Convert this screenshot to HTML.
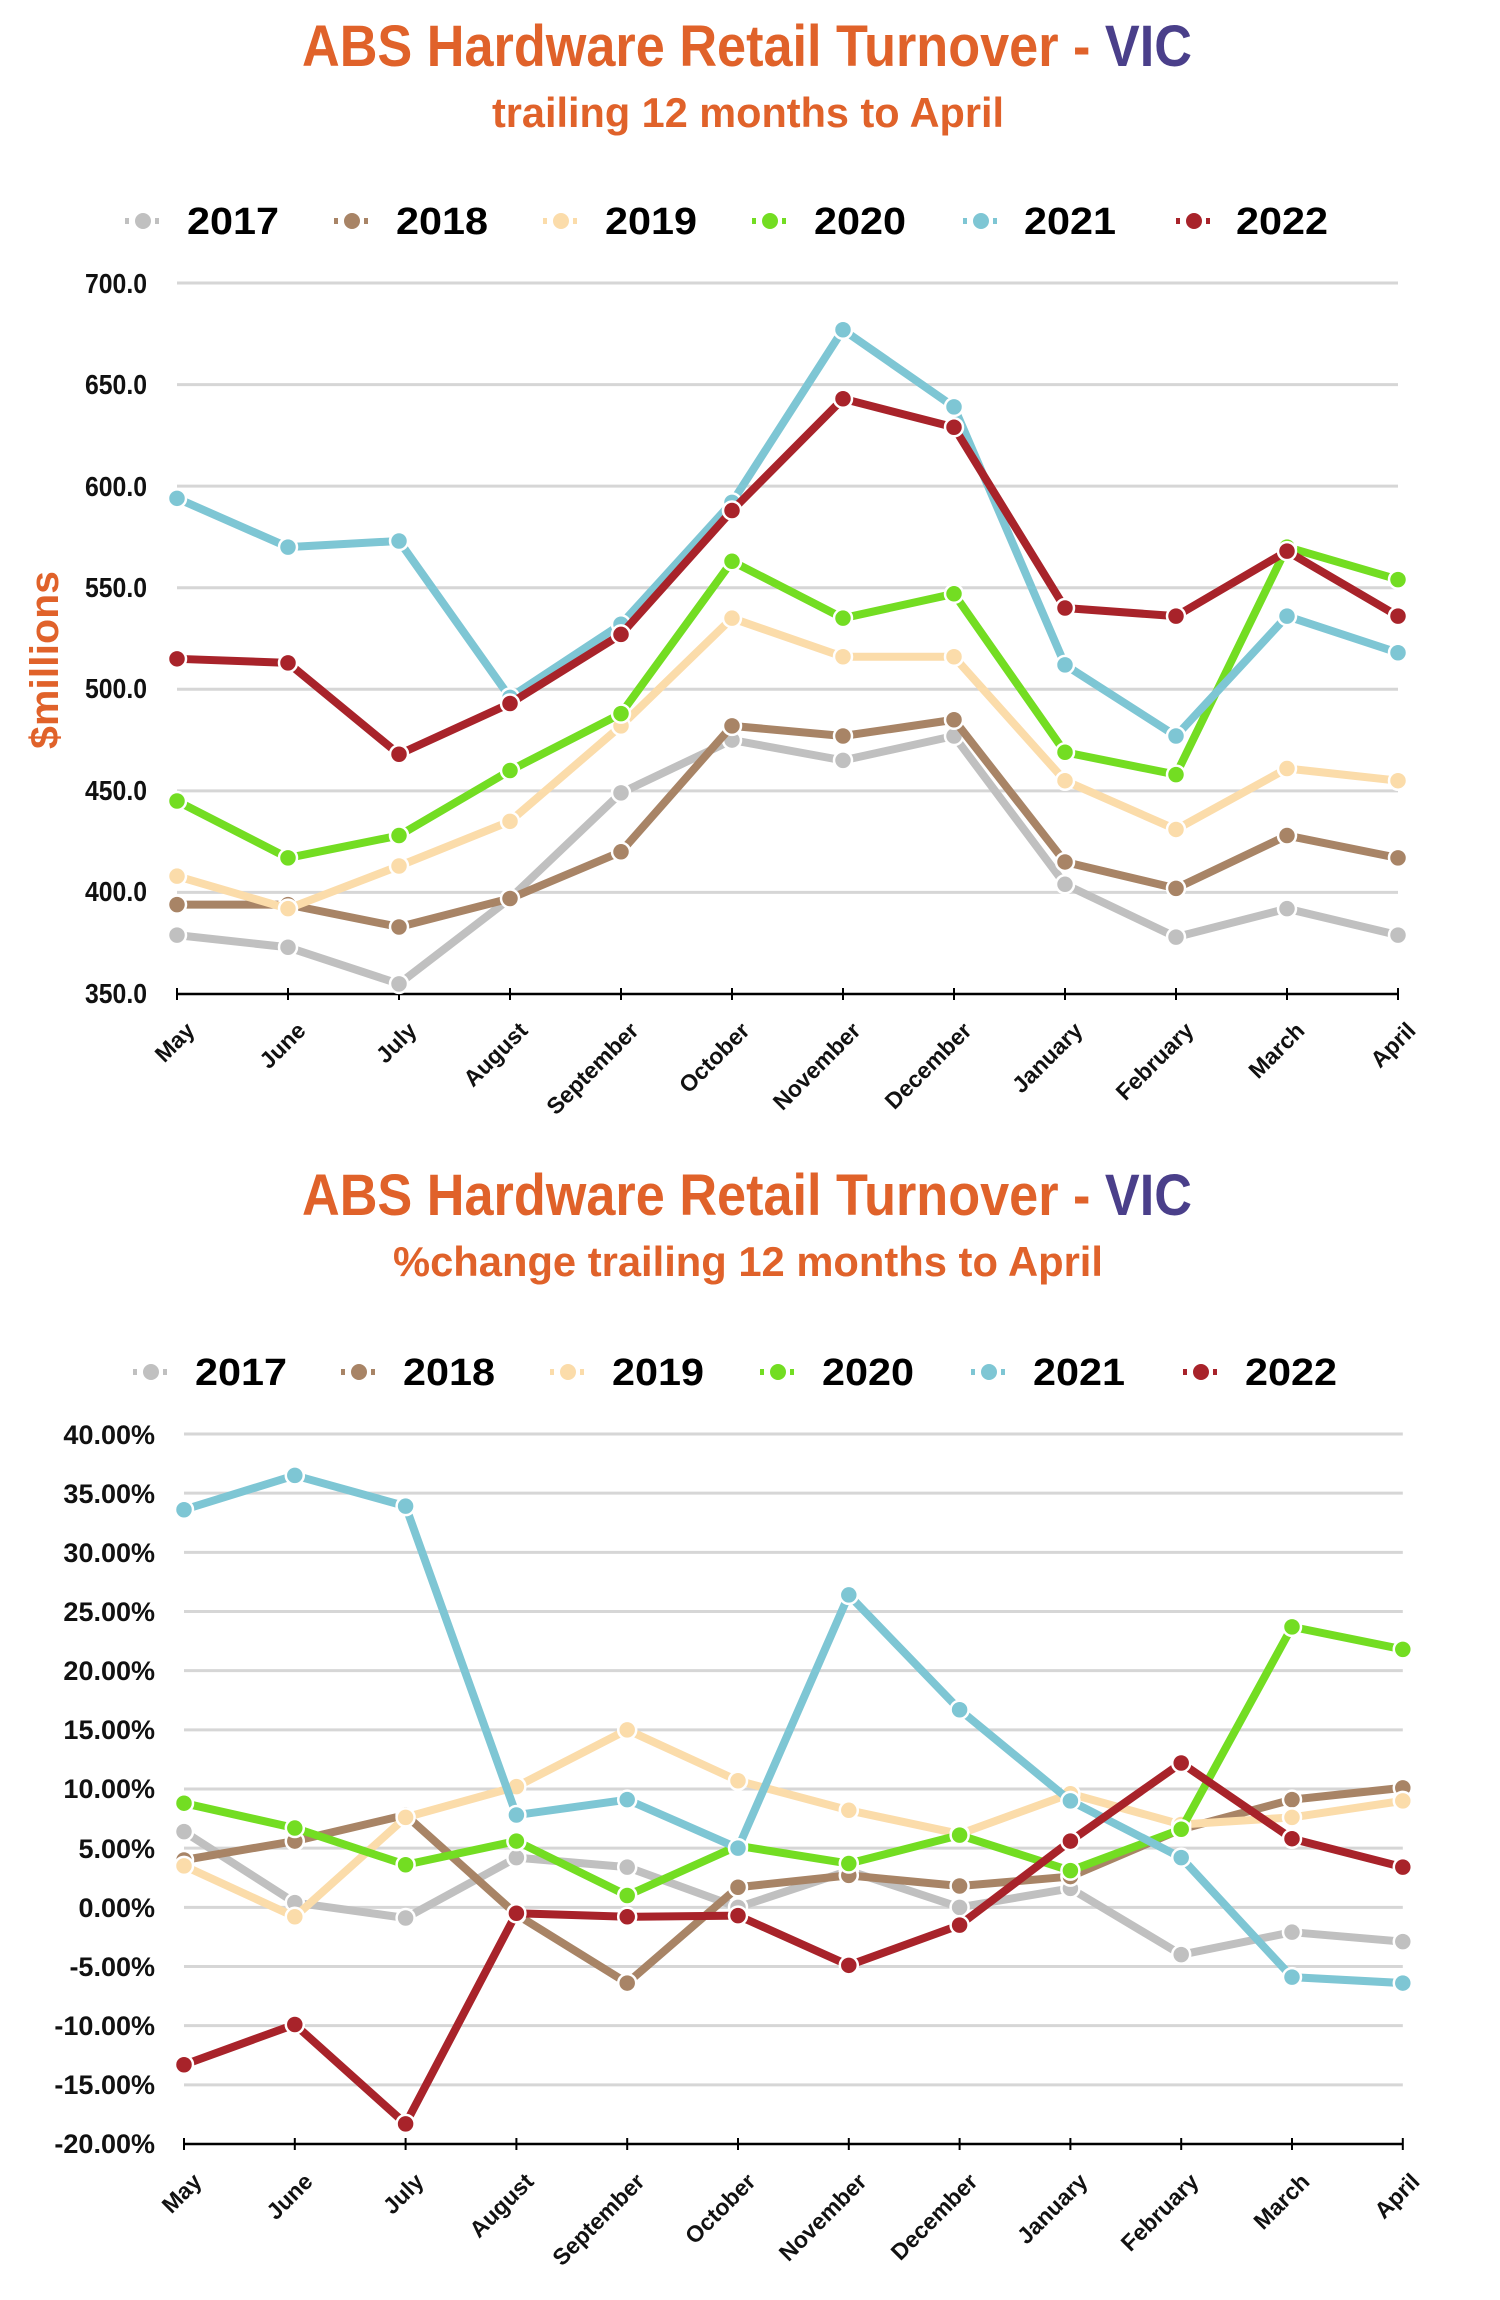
<!DOCTYPE html>
<html><head><meta charset="utf-8"><style>
html,body{margin:0;padding:0;background:#fff;width:1500px;height:2300px;overflow:hidden}
svg text{font-family:"Liberation Sans Narrow","Liberation Sans",sans-serif;font-weight:bold}
</style></head><body>
<svg id="s" width="1500" height="2300" xmlns="http://www.w3.org/2000/svg">
<rect width="1500" height="2300" fill="#fff"/>
<text x="747" y="66" text-anchor="middle" font-size="58" fill="#e0622a" textLength="890" lengthAdjust="spacingAndGlyphs">ABS Hardware Retail Turnover - <tspan fill="#4a3f8a">VIC</tspan></text>
<text x="748" y="127" text-anchor="middle" font-size="42" fill="#e0622a" textLength="512" lengthAdjust="spacingAndGlyphs">trailing 12 months to April</text>
<text x="747" y="1215" text-anchor="middle" font-size="58" fill="#e0622a" textLength="890" lengthAdjust="spacingAndGlyphs">ABS Hardware Retail Turnover - <tspan fill="#4a3f8a">VIC</tspan></text>
<text x="748" y="1276" text-anchor="middle" font-size="42" fill="#e0622a" textLength="710" lengthAdjust="spacingAndGlyphs">%change trailing 12 months to April</text>
<g font-size="38" fill="#000">
<text x="187" y="234" textLength="92" lengthAdjust="spacingAndGlyphs">2017</text>
<text x="396" y="234" textLength="92" lengthAdjust="spacingAndGlyphs">2018</text>
<text x="605" y="234" textLength="92" lengthAdjust="spacingAndGlyphs">2019</text>
<text x="814" y="234" textLength="92" lengthAdjust="spacingAndGlyphs">2020</text>
<text x="1024" y="234" textLength="92" lengthAdjust="spacingAndGlyphs">2021</text>
<text x="1236" y="234" textLength="92" lengthAdjust="spacingAndGlyphs">2022</text>
<text x="195" y="1385" textLength="92" lengthAdjust="spacingAndGlyphs">2017</text>
<text x="403" y="1385" textLength="92" lengthAdjust="spacingAndGlyphs">2018</text>
<text x="612" y="1385" textLength="92" lengthAdjust="spacingAndGlyphs">2019</text>
<text x="822" y="1385" textLength="92" lengthAdjust="spacingAndGlyphs">2020</text>
<text x="1033" y="1385" textLength="92" lengthAdjust="spacingAndGlyphs">2021</text>
<text x="1245" y="1385" textLength="92" lengthAdjust="spacingAndGlyphs">2022</text>
</g>
<g font-size="28" text-anchor="end" fill="#111">
<text x="147" y="293" textLength="62" lengthAdjust="spacingAndGlyphs">700.0</text><text x="147" y="394" textLength="62" lengthAdjust="spacingAndGlyphs">650.0</text><text x="147" y="496" textLength="62" lengthAdjust="spacingAndGlyphs">600.0</text><text x="147" y="597" textLength="62" lengthAdjust="spacingAndGlyphs">550.0</text>
<text x="147" y="698" textLength="62" lengthAdjust="spacingAndGlyphs">500.0</text><text x="147" y="800" textLength="62" lengthAdjust="spacingAndGlyphs">450.0</text><text x="147" y="901" textLength="62" lengthAdjust="spacingAndGlyphs">400.0</text><text x="147" y="1003" textLength="62" lengthAdjust="spacingAndGlyphs">350.0</text>
</g>
<text transform="translate(58,660) rotate(-90)" text-anchor="middle" font-size="40" fill="#e0622a" textLength="178" lengthAdjust="spacingAndGlyphs">$millions</text>
<g font-size="27" text-anchor="end" fill="#111">
<text x="155" y="1444">40.00%</text><text x="155" y="1503">35.00%</text><text x="155" y="1562">30.00%</text><text x="155" y="1621">25.00%</text>
<text x="155" y="1680">20.00%</text><text x="155" y="1739">15.00%</text><text x="155" y="1798">10.00%</text><text x="155" y="1858">5.00%</text>
<text x="155" y="1917">0.00%</text><text x="155" y="1976">-5.00%</text><text x="155" y="2035">-10.00%</text><text x="155" y="2094">-15.00%</text><text x="155" y="2153">-20.00%</text>
</g>
<g font-size="23" text-anchor="end" fill="#111">
<text transform="translate(196,1032) rotate(-45)">May</text>
<text transform="translate(307,1032) rotate(-45)">June</text>
<text transform="translate(418,1032) rotate(-45)">July</text>
<text transform="translate(529,1032) rotate(-45)">August</text>
<text transform="translate(640,1032) rotate(-45)">September</text>
<text transform="translate(751,1032) rotate(-45)">October</text>
<text transform="translate(862,1032) rotate(-45)">November</text>
<text transform="translate(973,1032) rotate(-45)">December</text>
<text transform="translate(1084,1032) rotate(-45)">January</text>
<text transform="translate(1195,1032) rotate(-45)">February</text>
<text transform="translate(1306,1032) rotate(-45)">March</text>
<text transform="translate(1417,1032) rotate(-45)">April</text>
</g>
<g font-size="23" text-anchor="end" fill="#111">
<text transform="translate(203,2183) rotate(-45)">May</text>
<text transform="translate(314,2183) rotate(-45)">June</text>
<text transform="translate(425,2183) rotate(-45)">July</text>
<text transform="translate(535,2183) rotate(-45)">August</text>
<text transform="translate(646,2183) rotate(-45)">September</text>
<text transform="translate(757,2183) rotate(-45)">October</text>
<text transform="translate(868,2183) rotate(-45)">November</text>
<text transform="translate(979,2183) rotate(-45)">December</text>
<text transform="translate(1089,2183) rotate(-45)">January</text>
<text transform="translate(1200,2183) rotate(-45)">February</text>
<text transform="translate(1311,2183) rotate(-45)">March</text>
<text transform="translate(1421,2183) rotate(-45)">April</text>
</g>
<g id="dyn"></g>
</svg>
<script>
var NS="http://www.w3.org/2000/svg",g=document.getElementById("dyn");
function el(t,a){var e=document.createElementNS(NS,t);for(var k in a)e.setAttribute(k,a[k]);g.appendChild(e);return e;}
var cols=["#c0c0c0","#a88466","#fbdcaa","#73dd22","#7ec6d4","#a8232a"];
function chart(x0,step,yTop,yBot,vTop,vBot,nGrid,data,legY,legX){
 for(var i=0;i<nGrid-1;i++){var y=yTop+(yBot-yTop)*i/(nGrid-1);
  el("line",{x1:x0,x2:x0+11*step,y1:y,y2:y,stroke:"#d6d6d6","stroke-width":3});}
 el("line",{x1:x0,x2:x0+11*step,y1:yBot,y2:yBot,stroke:"#000","stroke-width":2.5});
 for(var i=0;i<12;i++)el("line",{x1:x0+i*step,x2:x0+i*step,y1:yBot-6,y2:yBot+6,stroke:"#000","stroke-width":2});
 function Y(v){return yTop+(vTop-v)/(vTop-vBot)*(yBot-yTop);}
 data.forEach(function(d,s){
  var p=d.map(function(v,i){return (x0+i*step)+","+Y(v);}).join(" ");
  el("polyline",{points:p,fill:"none",stroke:cols[s],"stroke-width":8,"stroke-linejoin":"round"});
  d.forEach(function(v,i){el("circle",{cx:x0+i*step,cy:Y(v),r:9,fill:cols[s],stroke:"#fff","stroke-width":2.5});});
 });
 legX.forEach(function(x,s){
  el("line",{x1:x-18,x2:x+18,y1:legY,y2:legY,stroke:cols[s],"stroke-width":6,"stroke-dasharray":"4 6"});
  el("circle",{cx:x,cy:legY,r:9,fill:cols[s],stroke:"#fff","stroke-width":2});
 });
}
chart(177,111,283,994,700,350,8,[
[379,373,355,397,449,475,465,477,404,378,392,379],
[394,394,383,397,420,482,477,485,415,402,428,417],
[408,392,413,435,482,535,516,516,455,431,461,455],
[445,417,428,460,488,563,535,547,469,458,570,554],
[594,570,573,496,532,592,677,639,512,477,536,518],
[515,513,468,493,527,588,643,629,540,536,568,536]],221,[143,352,561,770,981,1194]);
chart(184,110.8,1434,2144,40,-20,13,[
[6.4,0.4,-0.9,4.2,3.4,0,3.1,0,1.6,-4,-2.1,-2.9],
[4.0,5.6,7.8,-0.6,-6.4,1.7,2.7,1.8,2.6,6.6,9.1,10.1],
[3.5,-0.8,7.6,10.2,15.0,10.7,8.2,6.2,9.6,7.0,7.6,9.0],
[8.8,6.7,3.6,5.6,1.0,5.2,3.7,6.1,3.1,6.6,23.7,21.8],
[33.6,36.5,33.9,7.8,9.1,5.0,26.4,16.7,9.0,4.2,-5.9,-6.4],
[-13.3,-9.9,-18.3,-0.5,-0.8,-0.7,-4.9,-1.5,5.6,12.2,5.8,3.4]],1372,[151,359,568,778,989,1201]);
</script>
</body></html>
